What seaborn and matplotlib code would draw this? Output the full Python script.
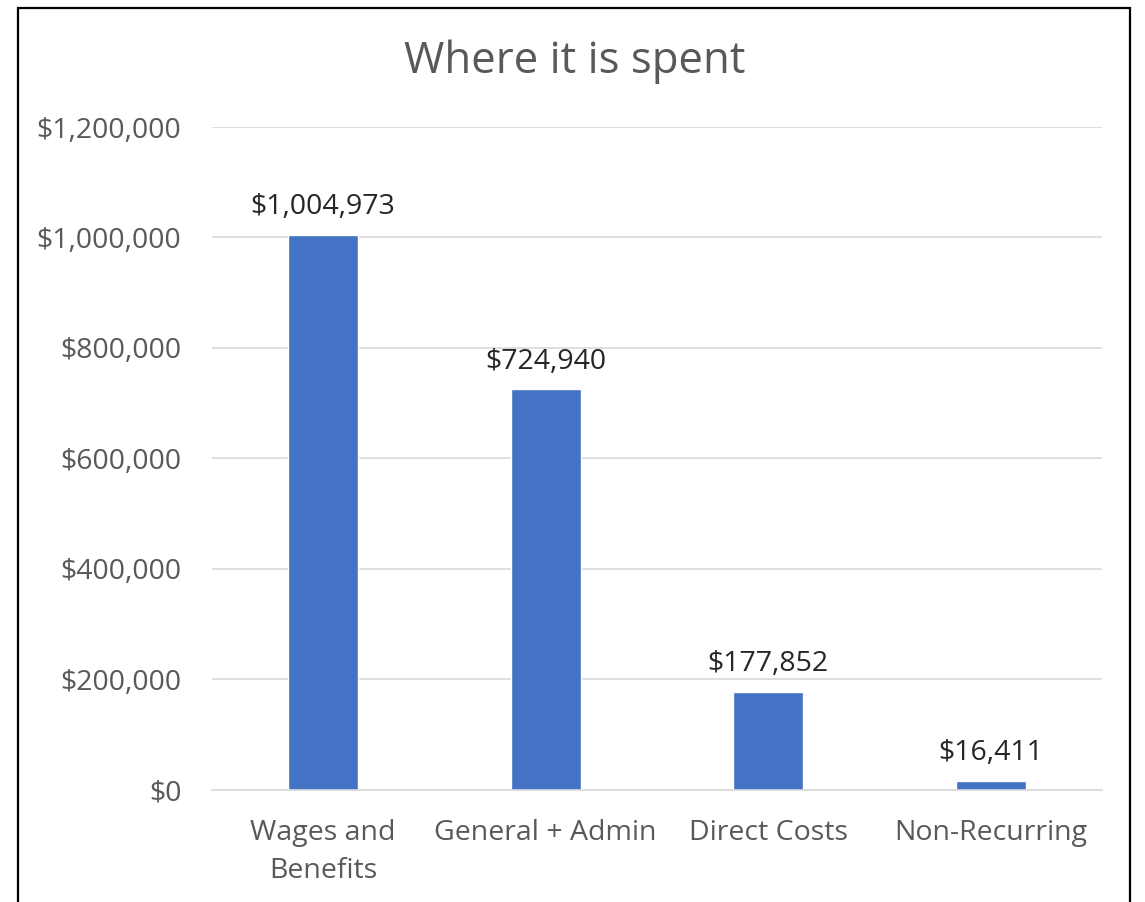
import matplotlib.pyplot as plt
import matplotlib.ticker as mticker
from matplotlib.patches import Rectangle
import seaborn as sns
import pandas as pd

categories = ["Wages and\nBenefits", "General + Admin", "Direct Costs", "Non-Recurring"]
amounts = [1004973, 724940, 177852, 16411]
y_ticks = [0, 200000, 400000, 600000, 800000, 1000000, 1200000]

df = pd.DataFrame({"category": categories, "amount": amounts})

sns.set_theme(style="white")
plt.rcParams['font.family'] = ['Open Sans', 'DejaVu Sans']

fig = plt.figure(figsize=(11.45, 9.02), dpi=100)
ax = fig.add_axes([0.185, 0.1242, 0.7773, 0.735])

sns.barplot(data=df, x="category", y="amount", color="#4472C4",
            width=0.315, saturation=1, ax=ax)

ax.set_ylim(0, 1200000)
ax.set_yticks(y_ticks)
ax.yaxis.set_major_formatter(mticker.FuncFormatter(lambda v, p: f"${v:,.0f}"))
ax.grid(axis="y", color="#D9D9D9", linewidth=1.2)
ax.set_axisbelow(True)
for side in ["top", "right", "left"]:
    ax.spines[side].set_visible(False)
ax.spines["bottom"].set_color("#D9D9D9")
ax.spines["bottom"].set_linewidth(1.2)
ax.tick_params(axis="both", length=0, labelsize=20.5, labelcolor="#595959")
ax.tick_params(axis="y", pad=22)
ax.tick_params(axis="x", pad=21)
ax.set_xlabel("")
ax.set_ylabel("")

for lbl in ax.get_xticklabels():
    lbl.set_linespacing(1.45)

for c in ax.containers:
    ax.bar_label(c, labels=[f"${v:,.0f}" for v in amounts], padding=10,
                 fontsize=20.5, color="#262626")

fig.text(0.502, 0.932, "Where it is spent", ha="center", va="center",
         fontsize=31.5, color="#595959")

fig.patches.append(Rectangle((18 / 1145, -0.05), (1130 - 18) / 1145, 1.05 - 8 / 902,
                             transform=fig.transFigure, fill=False,
                             edgecolor="black", linewidth=1.6))

fig.savefig("out.png", dpi=100)
